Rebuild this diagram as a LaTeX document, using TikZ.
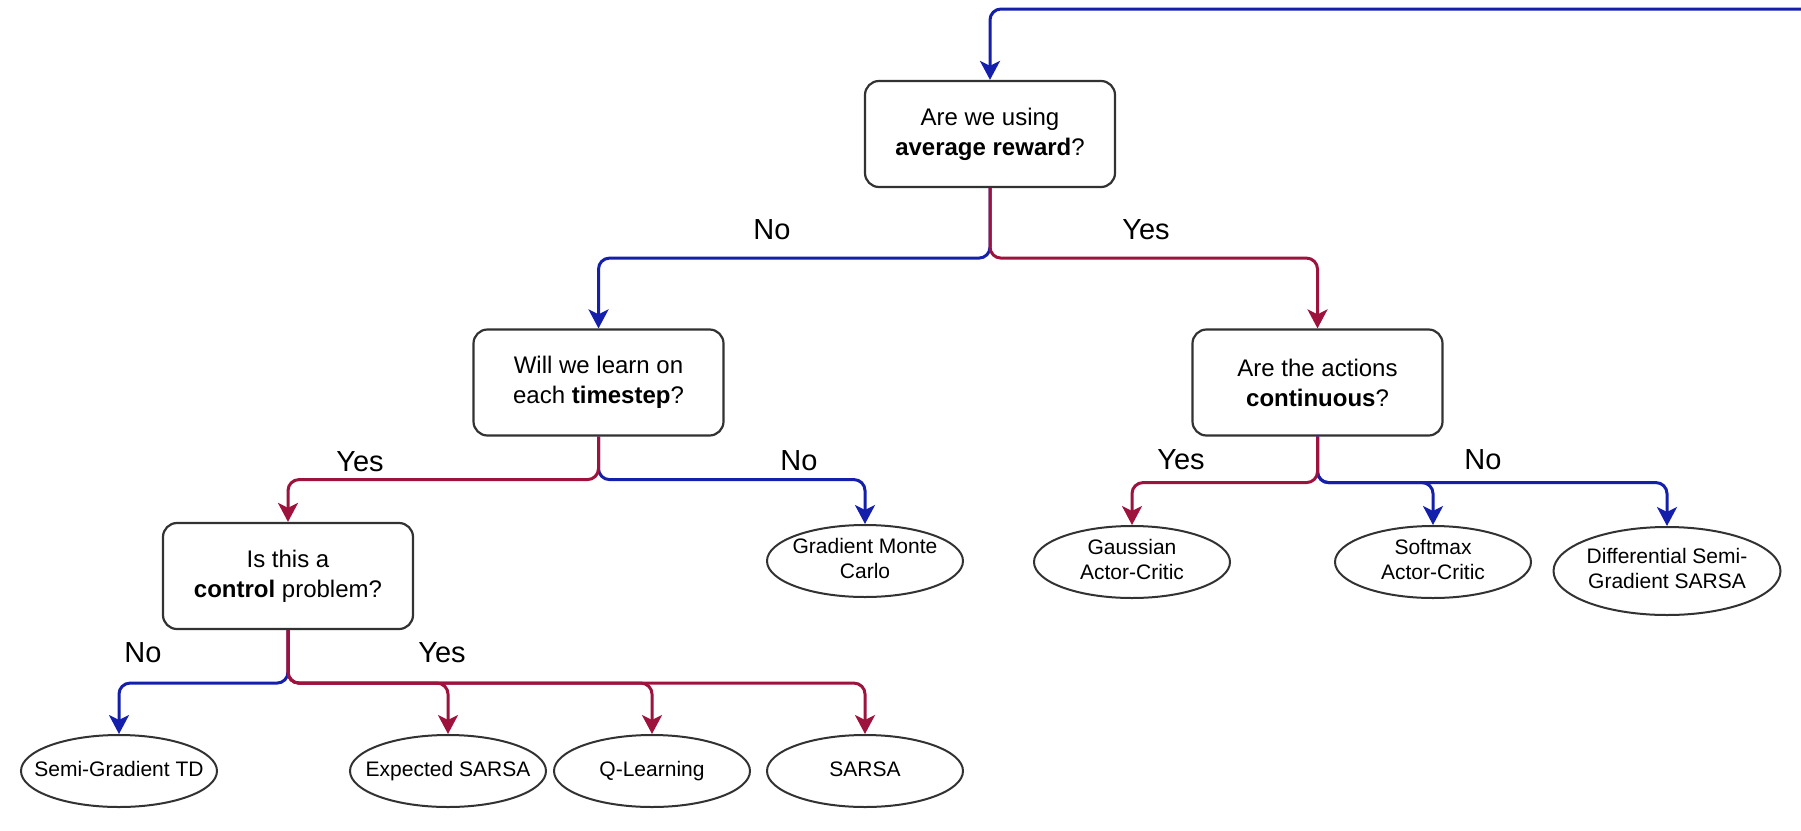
\documentclass[tikz,border=0pt]{standalone}
\usepackage{fontspec}
\setmainfont{Liberation Sans}
\usetikzlibrary{arrows.meta,shapes.geometric}
\definecolor{noblue}{RGB}{20,32,172}
\definecolor{yesred}{RGB}{158,18,62}
\definecolor{edge}{RGB}{50,50,50}
\newcommand{\leaftext}[1]{\makebox[0pt]{\begin{tabular}{@{}c@{}}#1\end{tabular}}}
\tikzset{
  qbox/.style={draw=edge, line width=2.2pt, rounded corners=14pt, fill=white,
    minimum width=250pt, minimum height=106pt, align=center, inner sep=0pt,
    font=\fontsize{24}{30}\selectfont},
  leaf/.style={draw=edge, line width=2pt, ellipse, fill=white, inner sep=0pt,
    minimum width=196pt, minimum height=72pt, font=\fontsize{21}{25}\selectfont},
  conn/.style={line width=3pt, rounded corners=11pt,
    -{Stealth[length=19pt,width=20pt,inset=5pt]}},
  nob/.style={conn, draw=noblue, color=noblue},
  yesr/.style={conn, draw=yesred, color=yesred},
  lbl/.style={font=\fontsize{29}{32}\selectfont, inner sep=0pt}
}
\begin{document}
\begin{tikzpicture}[x=1pt,y=-1pt]
\useasboundingbox (0,0) rectangle (1801,830);
\fill[white] (0,0) rectangle (1801,830);
% question boxes
\node[qbox] (root) at (990,134) {Are we using\\\textbf{average reward}?};
\node[qbox] (tstep) at (598.5,382.5) {Will we learn on\\each \textbf{timestep}?};
\node[qbox] (ctrl) at (288,576) {Is this a\\\textbf{control} problem?};
\node[qbox] (cont) at (1317.5,382.5) {Are the actions\\\textbf{continuous}?};
% leaves
\node[leaf] (sgtd) at (119,771) {\leaftext{Semi-Gradient TD}};
\node[leaf] (esarsa) at (448,771) {\leaftext{Expected SARSA}};
\node[leaf] (ql) at (652,771) {\leaftext{Q-Learning}};
\node[leaf] (sarsa) at (865,771) {\leaftext{SARSA}};
\node[leaf] (gmc) at (865,561) {\leaftext{Gradient Monte\\Carlo}};
\node[leaf] (gauss) at (1132,562) {\leaftext{Gaussian\\Actor-Critic}};
\node[leaf] (soft) at (1433,562) {\leaftext{Softmax\\Actor-Critic}};
\node[leaf, minimum width=227pt, minimum height=88pt] (diff) at (1667,571) {\leaftext{Differential Semi-\\Gradient SARSA}};
% top loop
\coordinate (topin) at (1801,9);
\draw[nob] (topin) -| (root.north);
% root branches
\draw[nob] (root.south) -- ([yshift=-70pt]root.south) -| (tstep.north);
\draw[yesr] (root.south) -- ([yshift=-70pt]root.south) -| (cont.north);
% timestep branches
\draw[nob] (tstep.south) -- ([yshift=-43pt]tstep.south) -| (gmc.north);
\draw[yesr] (tstep.south) -- ([yshift=-43pt]tstep.south) -| (ctrl.north);
% control branches
\draw[nob] (ctrl.south) -- ([yshift=-53pt]ctrl.south) -| (sgtd.north);
\draw[yesr] (ctrl.south) -- ([yshift=-53pt]ctrl.south) -| (sarsa.north);
\draw[yesr] (ctrl.south) -- ([yshift=-53pt]ctrl.south) -| (ql.north);
\draw[yesr] (ctrl.south) -- ([yshift=-53pt]ctrl.south) -| (esarsa.north);
% continuous branches
\draw[nob] (cont.south) -- ([yshift=-46pt]cont.south) -| (diff.north);
\draw[nob] (cont.south) -- ([yshift=-46pt]cont.south) -| (soft.north);
\draw[yesr] (cont.south) -- ([yshift=-46pt]cont.south) -| (gauss.north);
% labels
\node[lbl] (l1) at (772,230) {No};
\node[lbl] (l2) at (1146,230) {Yes};
\node[lbl] (l3) at (360,462) {Yes};
\node[lbl] (l4) at (799,461) {No};
\node[lbl] (l5) at (143,653) {No};
\node[lbl] (l6) at (442,653) {Yes};
\node[lbl] (l7) at (1181,460) {Yes};
\node[lbl] (l8) at (1483,460) {No};
\end{tikzpicture}
\end{document}
